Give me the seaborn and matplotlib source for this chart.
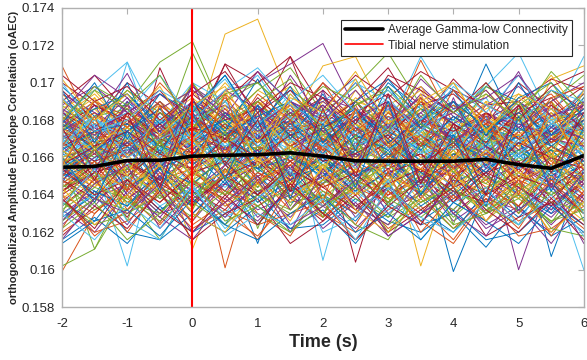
import numpy as np
import pandas as pd
import matplotlib
matplotlib.use("Agg")
import matplotlib.pyplot as plt
import seaborn as sns
from matplotlib.lines import Line2D

# Time axis (s), 0.5 s steps around the stimulus at t = 0
time_s = [-2.0, -1.5, -1.0, -0.5, 0.0, 0.5, 1.0, 1.5, 2.0, 2.5, 3.0, 3.5, 4.0, 4.5, 5.0, 5.5, 6.0]

# Group-average gamma-low connectivity (oAEC)
avg_oaec = [0.16548, 0.16552, 0.16584, 0.16585, 0.16607, 0.16612, 0.16615, 0.16625, 0.16607,
            0.16582, 0.16580, 0.16580, 0.16580, 0.16590, 0.16562, 0.16542, 0.16610]

# Connection-wise oAEC traces, stored as offsets from 0.166 in units of 1e-4.
# Traces are coloured in order by the MATLAB colour cycle.
base_oaec = 0.166
trace_offsets = [
    [-14, 18, 6, -20, 10, -2, -46, 4, -12, 16, -4, 20, -14, 8, -6, 18, 0],
    [49, 14, 22, -6, 30, 8, 24, -12, 16, 28, 0, 18, -6, 24, 10, -4, 20],
    [5, 12, 18, 20, 10, 66, 74, 30, 8, 20, 25, 6, 12, 22, 4, 18, 10],
    [10, 28, 0, 24, 14, 36, 40, 50, 61, 26, 12, 30, 8, 24, 16, 28, 12],
    [20, 26, 28, 51, 62, 22, 30, 12, 24, -4, 16, 28, 6, 20, 30, 10, 24],
    [15, -5, 51, 0, 30, 12, -8, 20, 4, 18, -10, 14, 30, 2, -6, 16, 8],
    [-10, 10, -18, 48, 10, 50, 20, 54, 8, 22, 30, 4, -6, 12, 20, -2, 14],

    [-4, -20, 6, -14, 2, -10, 12, -6, 16, -2, -12, 4, -61, -18, 2, -14, -8],
    [-61, -30, -12, -35, -8, -20, 6, -18, 4, -14, 10, -22, 2, -10, -26, 0, -16],
    [-20, 4, -26, 10, -49, -6, -16, 8, -22, 2, -12, 14, -8, 6, -18, 4, -30],
    [2, 18, -8, 10, 6, -12, 4, 14, -10, 8, -4, 12, -2, 6, -60, -10, 2],
    [-58, -49, -20, -44, -15, 2, -24, -8, -30, -12, -40, -16, -6, -28, -18, -35, -10],
    [8, -4, -58, 10, -10, 14, -20, 10, -14, 6, -18, 12, -8, 18, -2, 8, -12],
    [-6, 14, -10, 8, 24, 4, 16, -2, 10, -56, 0, -16, 6, -8, 14, -4, 8],

    [-12, 4, -20, -2, -26, 6, -16, 2, -8, -20, 0, -14, 10, -4, 12, -53, -6],
    [22, 6, 28, -4, 16, -59, 0, -14, 12, -6, 18, -10, 4, 20, -8, 12, 2],
    [16, 26, 8, 20, 2, 14, 22, 18, 49, 54, 20, 16, 30, 10, 22, 6, 16],
    [31, 20, 45, 12, 38, 26, 10, 44, 20, 30, 14, 38, 22, 8, 28, 16, 36],
    [0, -49, -14, -30, -6, -18, 6, -26, 2, -16, 8, -12, 4, -20, 0, -10, -24],
    [12, 0, 20, 6, 18, 30, 14, 22, -55, 6, -10, 14, -2, 8, -12, 10, 4],
    [4, -12, 10, -6, 16, -2, 8, 24, 2, 30, 48, 20, 4, 18, -6, 10, 20],

    [24, 10, 30, 14, 22, 4, 28, 12, 6, 20, 16, 26, 10, 50, 14, 22, 30],
    [14, 2, 24, 18, 6, 20, 10, 16, 4, 26, 12, 52, 18, 8, 24, 14, 6],
    [-8, 8, -14, 12, -4, 16, 2, -10, 14, -6, 10, -58, -4, 12, -16, 6, -2],
    [18, 8, 12, 26, 4, 22, 10, 0, 20, 12, 26, 8, 16, 20, 46, 12, 18],
    [28, 14, 20, 4, 26, 16, 6, 20, 12, 2, 24, 10, 18, 4, 22, 8, 14],
    [-2, 10, -6, 20, 8, -4, 14, -8, 4, 18, 0, 10, -2, 14, 6, -8, -60],
    [-16, -4, -22, -10, -30, -14, -22, -4, -26, -10, -18, -30, -12, -20, -6, -24, -14],

    [-24, -34, -12, -28, -18, -36, -10, -24, -20, -30, -14, -34, -22, -8, -28, -16, -30],
    [12, 24, 6, 30, 16, 2, 20, 10, 28, 14, 4, 22, 8, 18, 26, 10, 16],
    [6, 20, 4, 16, -4, 10, 24, 6, 14, -8, 16, 2, 20, 12, 4, 42, 49],
    [-30, -18, -36, -10, -22, -14, -28, -20, -8, -32, -16, -24, -12, -30, -20, -36, -18],
    [0, 6, -4, 2, 10, -2, 6, 0, -6, 4, 8, -4, 2, 6, -2, 4, 0],
    [8, 16, 2, 12, 20, 6, 14, 4, 18, 8, 12, 20, 4, 14, 8, 16, 10],
    [-8, 2, -12, -2, -6, 4, -10, -2, 6, -8, -4, 2, -10, 0, -6, 6, -4],
    [20, 4, 14, 30, 10, 24, 6, 18, 28, 12, 22, 6, 30, 16, 10, 20, 24],
    [-18, -6, -24, -14, 0, -20, -10, -28, -12, -2, -22, -14, -6, -26, -12, -20, -8],
    [34, 18, 26, 10, 40, 14, 30, 20, 8, 36, 16, 28, 12, 34, 20, 10, 32],
    [-36, -22, -14, -30, -24, -10, -32, -18, -26, -38, -20, -12, -34, -22, -28, -40, -20],
    [4, -10, 12, -16, 6, -8, 16, -14, 2, 10, -18, 8, -12, 14, -4, 4, -10],
    [16, 30, 10, 22, 4, 28, 14, 34, 18, 8, 26, 12, 20, 32, 6, 24, 14],
    [-26, -12, -32, -4, -18, -28, -8, -20, -34, -14, -24, -6, -30, -16, -26, -10, -22],
    [10, -2, 18, 4, 22, 10, -6, 14, 2, 20, 6, -4, 16, 0, 12, -8, 6],
    [-4, 12, 0, 18, -2, 14, 4, 10, -8, 6, 16, 0, 10, -4, 20, 2, 12],
    [26, 36, 16, 28, 20, 40, 22, 12, 32, 18, 28, 38, 14, 26, 34, 18, 28],
    [-12, -26, -6, -20, -34, -14, -4, -22, -10, -28, -16, -36, -8, -24, -12, -30, -20],
    [2, 14, -6, 8, 16, -4, 20, 6, -2, 12, 4, 18, -6, 10, 2, 14, -4],
    [14, 4, 10, 20, 2, 8, -4, 12, 24, 6, 16, -2, 12, 4, 18, 8, 22],
    [-20, -8, -2, -16, -26, -4, -18, -12, -30, -6, -20, -10, -24, -2, -16, -28, -12],
    [38, 22, 34, 16, 26, 44, 18, 36, 24, 14, 40, 26, 20, 38, 30, 16, 34],
    [-40, -28, -20, -36, -16, -30, -42, -22, -32, -18, -38, -26, -44, -20, -34, -24, -38],
    [6, 22, 12, 2, 18, 10, 26, 8, 16, 0, 20, 14, 4, 22, 12, 26, 6],
    [-6, -16, 4, -10, -2, -18, 0, -8, -14, 2, -6, -20, 0, -12, -4, -16, 2],
    [18, 10, 2, 16, 26, 12, 4, 24, 10, 18, 2, 20, 28, 8, 16, 4, 22],
    [-14, 0, -8, -22, -4, -16, 2, -20, -10, -24, -4, -14, -18, 2, -22, -6, -16],
    [30, 44, 24, 36, 14, 30, 46, 22, 36, 20, 42, 28, 34, 18, 40, 26, 38],
    [-44, -32, -46, -26, -40, -30, -20, -38, -28, -46, -24, -36, -30, -48, -26, -42, -32],
    [0, -14, 8, -4, 12, -10, 4, -16, 8, -2, 14, -8, 6, -12, 10, -2, -14],
    [22, 34, 16, 8, 28, 18, 36, 26, 12, 32, 20, 10, 26, 36, 18, 30, 12],
    [-28, -40, -18, -32, -44, -22, -34, -16, -38, -24, -42, -30, -20, -36, -26, -46, -22],
    [10, 22, 26, 8, 56, 20, 36, 48, 24, 38, 56, 28, 18, 40, 22, 30, 44],
    [22, 36, 51, 18, 40, 30, 44, 20, 30, 42, 16, 54, 26, 38, 56, 20, 54],
    [36, 20, 40, 28, 14, 50, 40, 54, 26, 44, 32, 46, 36, 28, 30, 42, 36],
    [-32, -20, -40, -44, -30, -40, -26, -38, -36, -22, -34, -40, -28, -44, -40, -24, -36],
    [-22, -40, -34, -20, -38, -28, -36, -30, -24, -44, -28, -20, -38, -22, -42, -38, -26],
    [26, 12, 36, 20, 32, 16, 28, 38, 20, 30, 24, 36, 12, 30, 24, 44, 20],
    [-10, 6, -20, 0, -24, -8, 4, -28, -6, -18, 6, -22, -4, -30, -2, -26, -12],
    [12, -6, 16, 2, 28, 0, 10, -10, 20, 4, -2, 16, -8, 10, 20, 0, 8],
    [-2, -22, -10, 6, -16, -30, -8, 4, -20, -12, -28, -2, -16, 8, -10, -20, 0],
    [40, 28, 18, 34, 22, 10, 32, 16, 40, 24, 34, 18, 42, 24, 14, 36, 26],
    [4, 18, 8, -6, 20, 12, 0, 16, 6, 24, 10, -4, 14, 22, 0, 12, 18],
    [-16, -2, -28, -12, -6, -24, -14, -4, -18, -30, -8, -20, -2, -16, -26, -8, -20],
    [20, 32, 12, 26, 36, 14, 26, 8, 30, 18, 10, 30, 24, 14, 32, 20, 26],
    [-24, -8, -16, -32, -12, -26, -18, -32, -14, -4, -30, -18, -28, -10, -20, -32, -14],
    [8, 0, 14, 24, 6, 16, 30, 10, 22, 0, 14, 26, 8, 2, 20, 30, 4],
    [-6, 8, -14, -4, 10, -12, 2, 12, -4, -16, 6, -10, 16, -6, 2, -18, 8],
    [16, 6, 24, 10, 2, 18, 8, 26, 14, 6, 30, 12, 0, 24, 10, 14, 28],
    [-34, -18, -26, -6, -30, -12, -36, -16, -22, -34, -12, -28, -40, -18, -32, -14, -26],
    [30, 18, 8, 24, 14, 32, 12, 28, 4, 24, 18, 32, 16, 6, 26, 34, 14],
    [-12, -24, -4, -18, -28, 0, -20, -10, -26, -16, -2, -24, -14, -30, -8, -20, -34],
    [6, -8, 14, -2, 20, 4, 12, -6, 10, 2, -10, 8, 0, 16, -4, -12, 10],
    [-4, 10, -12, 6, -2, 14, -8, 4, -6, 12, 2, -14, 8, -2, 4, -8, 14],
    [12, 22, 4, 16, 8, 0, 18, 26, 6, 14, 22, 4, 14, 6, 20, 10, 2],
    [-18, -4, -10, 4, -14, -22, -2, -12, 0, -20, -6, 2, -16, -8, -2, -22, -6],
    [2, -6, 8, 14, -4, 10, 20, 0, -8, 6, 12, -2, 6, 16, -6, 4, -12],
    [14, 24, 10, 0, 12, 26, 8, 18, 4, 16, 0, 20, 10, -2, 14, 24, 6],
    [-10, -20, -4, -16, 4, -8, -14, 2, -16, -6, -22, -10, 0, -14, -22, -4, -18],
    [20, 8, 28, 14, 4, 22, 12, 30, 14, 0, 16, 24, 8, 20, 4, 12, 26],
    [-26, -14, -6, -22, -12, -2, -18, -8, -24, -14, -4, -18, -28, -10, -18, -6, -12],
    [0, 12, 20, 4, 14, -2, 8, 18, -4, 10, 20, 2, 12, -4, 8, 22, 4],
    [8, -2, 4, 18, 2, 12, -6, 6, 16, -2, 8, -8, 18, 6, -4, 10, -2],
    [-8, -18, -26, -10, -20, -6, -24, -12, -4, -18, -8, -26, -14, -4, -20, -30, -8],
    [18, 30, 22, 10, 24, 34, 18, 6, 22, 12, 28, 16, 6, 28, 20, 8, 30],
    [-2, 4, -10, -18, 0, -8, 10, -14, -4, 6, -16, -2, -20, 2, -12, -4, 8],
    [10, 16, 2, 24, 12, 4, 22, 14, 28, 10, -2, 16, 24, 12, 2, 16, 10],
    [-14, -28, -16, -6, -22, -10, -20, -28, -12, -22, -32, -8, -18, -26, -14, -24, -28],
    [4, 18, 12, 26, 10, 20, 2, 14, 8, -6, 12, 4, -4, 10, 26, 8, 18],
    [24, 14, 6, 18, 34, 20, 26, 12, 18, 30, 8, 20, 14, 24, 10, 28, 16],
    [-6, 6, -2, -12, 8, 18, -6, 0, -10, 4, -14, 6, 12, -4, 8, -10, 2],
    [-20, -30, -14, -24, -8, -18, -26, -14, -32, -16, -24, -6, -22, -12, -30, -12, -24],
    [16, 2, 10, -2, 18, 8, 14, 2, -6, 18, 6, 14, -4, 8, 12, -2, 16],
    [-12, 0, 8, -8, -18, -4, 4, -12, 2, -10, -2, -16, -6, 6, -10, 0, -14],
    [30, 20, 36, 24, 16, 30, 40, 24, 14, 28, 38, 22, 30, 16, 26, 36, 22],
    [-30, -20, -10, -26, -16, -32, -22, -8, -26, -18, -30, -14, -24, -34, -18, -28, -16],
    [6, 14, 24, 12, 30, 16, 8, 22, 32, 10, 18, 6, 22, 12, 28, 8, 20],
    [-10, -4, 6, -6, 2, -14, 12, -10, 0, -12, 4, -20, 2, -8, 8, -12, -4],
    [22, 10, 16, 30, 8, 24, 18, 28, 10, 4, 22, 16, 28, 18, 6, 22, 34],
    [-4, -16, 2, -20, -8, 4, -14, -2, -22, -6, -16, 0, -10, -20, -4, 2, -18],
    [12, 2, 20, 10, 22, 12, 28, 4, 16, 26, 6, 22, 10, 2, 18, 10, 6],
    [-16, -8, -24, -30, -12, -20, -4, -22, -14, -2, -24, -12, -32, -16, -8, -20, -10],
    [2, 10, -4, 12, 26, 6, 16, 10, 2, 14, -4, 10, 20, 4, -6, 12, 22],
    [16, 28, 20, 6, 16, 10, 24, 36, 16, 24, 10, 30, 18, 8, 24, 32, 14],
    [-8, 4, -16, -6, -14, 0, -6, -18, -2, -10, 2, -8, -20, -6, 4, -8, -2],
    [8, -4, 6, 16, 0, 18, 6, -2, 12, 20, 6, -6, 10, 18, 2, 8, 16],
    [-22, -10, -30, -18, -4, -26, -14, -24, -6, -20, -12, -28, -16, -2, -22, -10, -26],
    [26, 16, 32, 8, 22, 28, 14, 24, 30, 16, 6, 24, 36, 20, 30, 18, 10],
    [0, -12, -6, 8, -10, 2, -16, 6, -4, -14, 0, 10, -8, -14, 4, -6, 12],
    [10, 20, 14, 2, 26, 14, 20, 8, 26, 18, 32, 12, 4, 20, 14, 26, 18],
    [-12, -22, -2, -12, -26, -10, -2, -18, -10, -26, -14, -6, -18, -24, -4, -14, -30],
    [4, 14, 18, 6, 0, 24, 10, 20, -2, 12, 4, 18, 8, 0, 16, 6, -2],
    [14, 6, 0, 12, 22, 2, 30, 14, 20, 6, 24, 8, -2, 16, 6, 18, 24],
    [-2, -14, -22, -4, -16, -8, 0, -20, -12, 0, -10, -18, 4, -12, -20, -4, -10],
    [34, 24, 14, 26, 36, 24, 16, 30, 22, 40, 20, 32, 18, 28, 38, 22, 30],
    [-34, -22, -28, -16, -24, -36, -20, -30, -18, -26, -36, -24, -16, -30, -22, -34, -28],
    [6, 22, 0, 10, 18, 30, 6, 16, 24, 6, 14, 28, 12, 22, 2, 18, 14],
    [-6, -20, -12, -24, -8, -2, -20, -6, -16, -28, -8, -2, -24, -8, -16, -26, 0],
    [18, 4, 14, 26, 12, 20, 2, 18, 8, 22, 14, 4, 22, 12, 30, 6, 20],
    [-14, -2, -18, 2, -12, -24, -8, -16, 6, -12, -20, -6, -10, 4, -14, -4, -20],
    [0, 8, 16, -2, 6, 14, 24, 4, 12, -2, 20, 10, 0, 14, 6, 20, 2],
    [28, 38, 24, 34, 20, 36, 26, 18, 32, 26, 14, 34, 24, 36, 16, 30, 40],
    [-24, -36, -30, -20, -32, -18, -30, -40, -26, -16, -32, -22, -38, -28, -20, -34, -24],
    [10, -6, 4, 20, 8, -4, 12, 22, 6, -4, 18, 2, 8, -6, 10, 20, 4],
    [-18, -8, -2, -14, -24, -10, -20, -2, -16, -8, -26, -12, -2, -20, -10, -16, -4],
    [14, 26, 34, 18, 28, 12, 22, 30, 16, 26, 8, 20, 30, 16, 24, 12, 26],
    [-10, 4, -8, 8, -2, 6, -12, -4, 10, -8, 0, 12, -6, 2, -12, 6, -6],
    [4, -8, -16, -2, 10, -12, -4, 6, -10, -20, 0, -6, -14, 4, -8, -16, 2],
    [20, 12, 26, 16, 30, 22, 10, 24, 14, 20, 30, 16, 8, 22, 18, 12, 24],
    [-28, -16, -22, -34, -20, -10, -26, -16, -30, -12, -22, -32, -18, -26, -36, -18, -30],
    [8, 20, 10, 0, 14, 6, 18, 0, 12, 24, 4, 14, 26, 10, 0, 18, 12],
    [-4, 6, 14, 2, -6, 10, 0, 12, -2, 2, 12, -4, 8, -10, 8, 0, -6],
    [36, 8, 40, 2, 30, 14, 42, 10, 34, 4, 38, 16, 30, 6, 40, 12, 32],
    [-38, -10, -40, -16, -34, -6, -30, -42, -14, -36, -8, -40, -20, -34, -12, -42, -18],
    [-6, 32, -10, 28, -14, 36, -4, 30, -8, 26, -16, 34, -2, 30, -12, 24, -6],
    [26, -8, 30, -12, 40, 0, 24, -10, 36, -4, 28, -14, 32, -6, 22, -16, 30],
    [-30, 6, -34, 10, -28, 14, -38, 4, -32, 12, -26, 8, -36, 16, -30, 2, -34],
    [40, 16, 24, 44, 20, 36, 48, 28, 18, 40, 30, 14, 38, 24, 44, 18, 36],
    [-42, -26, -38, -18, -44, -30, -22, -46, -34, -20, -40, -28, -16, -42, -32, -24, -44],
    [18, 40, 10, 34, 24, 44, 16, 38, 8, 30, 42, 20, 36, 12, 32, 40, 22],
    [-20, -42, -28, -8, -36, -24, -44, -14, -30, -40, -18, -34, -46, -22, -38, -12, -30],
    [32, 4, 20, 38, 10, 28, -2, 34, 16, 42, 6, 26, 40, 14, 30, 0, 36],
    [-34, -14, -4, -38, -20, -32, -12, -40, -6, -26, -36, -10, -30, -42, -16, -28, -8],
    [14, 36, 26, 6, 40, 18, 30, 42, 12, 28, 36, 18, 8, 38, 28, 40, 16],
    [-26, -6, -34, -44, -16, -38, -22, -6, -40, -32, -12, -44, -24, -16, -36, -4, -30],
    [44, 30, 38, 20, 34, 46, 24, 40, 32, 18, 44, 36, 24, 40, 20, 38, 46],
    [-46, -34, -28, -42, -22, -36, -44, -30, -20, -40, -30, -44, -24, -34, -46, -26, -40],
    [6, 30, 16, 40, 22, 8, 34, 20, 40, 14, 28, 6, 36, 20, 10, 32, 38],
    [-16, -36, -20, -4, -30, -40, -14, -34, -4, -28, -40, -22, -6, -34, -18, -40, -24],
    [24, 44, 32, 14, 38, 22, 46, 30, 20, 36, 16, 42, 26, 32, 44, 22, 28],
    [-38, -24, -44, -30, -12, -34, -26, -40, -20, -36, -44, -18, -36, -30, -14, -38, -42],
    [32, 14, 20, 36, 26, 42, 18, 30, 44, 24, 36, 20, 40, 28, 18, 36, 30],
    [-22, -38, -12, -28, -40, -20, -36, -14, -30, -44, -26, -36, -10, -28, -40, -22, -36],
    [0, -24, 14, -18, 24, -12, 28, -22, 18, -16, 30, -20, 12, -26, 22, -18, 16],
    [-4, 22, -18, 28, -10, 34, -14, 20, -24, 26, -8, 32, -16, 24, -20, 30, -12],
    [42, 20, 34, 12, 28, 38, 8, 32, 24, 46, 18, 30, 40, 14, 34, 26, 10],
    [-44, -22, -30, -14, -40, -24, -10, -36, -26, -12, -42, -30, -18, -38, -28, -14, -46],
    [20, 38, 28, 44, 16, 34, 40, 22, 38, 30, 14, 44, 24, 34, 20, 46, 28],
    [-30, -44, -24, -38, -14, -42, -30, -36, -22, -44, -16, -32, -40, -24, -36, -20, -42],
    [16, -12, 24, -16, 32, -4, 20, -18, 26, -10, 34, -14, 18, -20, 28, -8, 24],
]

x_ticks = [-2, -1, 0, 1, 2, 3, 4, 5, 6]
y_ticks = [0.158, 0.16, 0.162, 0.164, 0.166, 0.168, 0.17, 0.172, 0.174]
y_tick_labels = ["0.158", "0.16", "0.162", "0.164", "0.166", "0.168", "0.17", "0.172", "0.174"]

stim_time = 0.0
legend_labels = ["Average Gamma-low Connectivity", "Tibial nerve stimulation"]

# MATLAB-style colour order
color_order = ["#0072BD", "#D95319", "#EDB120", "#7E2F8E", "#77AC30", "#4DBEEE", "#A2142F"]

# Long-form table of all traces
rows = []
for k, offs in enumerate(trace_offsets):
    for t, d in zip(time_s, offs):
        rows.append({"trace": k, "time": t, "oaec": base_oaec + d * 1e-4})
traces = pd.DataFrame(rows)
avg_df = pd.DataFrame({"time": time_s, "oaec": avg_oaec})

sns.set_theme(style="white")
plt.rcParams["font.family"] = ["Liberation Sans", "DejaVu Sans"]

fig = plt.figure(figsize=(5.87, 3.60), dpi=100)
ax = fig.add_axes([0.1056, 0.147, 0.889, 0.831])

palette = [color_order[k % len(color_order)] for k in range(len(trace_offsets))]
sns.lineplot(data=traces, x="time", y="oaec", hue="trace", palette=palette,
             estimator=None, units="trace", legend=False, linewidth=0.7, ax=ax)
ax.axvline(stim_time, color="#FF0000", linewidth=1.5)
sns.lineplot(data=avg_df, x="time", y="oaec", color="black", linewidth=2.6, ax=ax)

ax.set_xlim(-2, 6)
ax.set_ylim(0.158, 0.174)
ax.set_xticks(x_ticks)
ax.set_xticklabels([str(v) for v in x_ticks])
ax.set_yticks(y_ticks)
ax.set_yticklabels(y_tick_labels)

axis_gray = "#b0b0b0"
for s in ax.spines.values():
    s.set_visible(True)
    s.set_color(axis_gray)
    s.set_linewidth(1.0)
ax.tick_params(axis="both", direction="in", length=4, width=0.8, color=axis_gray,
               labelsize=9.5, labelcolor="#262626", top=True, right=True)
ax.tick_params(axis="x", pad=8)
ax.tick_params(axis="y", pad=5)

ax.set_xlabel("Time (s)", fontsize=13, fontweight="bold", color="#262626", labelpad=3)
ax.set_ylabel("orthogonalized Amplitude Envelope Correlation (oAEC)", fontsize=8,
              fontweight="bold", color="#262626", labelpad=2)

handles = [Line2D([0], [0], color="black", linewidth=2.6),
           Line2D([0], [0], color="#FF0000", linewidth=1.2)]
leg = ax.legend(handles, legend_labels, loc="upper right", fontsize=8.6,
                frameon=True, fancybox=False, framealpha=1, edgecolor="#262626",
                borderpad=0.35, borderaxespad=0, handlelength=3.2, handletextpad=0.4,
                labelspacing=0.3, bbox_to_anchor=(0.977, 0.96))
leg.get_frame().set_linewidth(0.8)

fig.savefig("out.png", dpi=100)
